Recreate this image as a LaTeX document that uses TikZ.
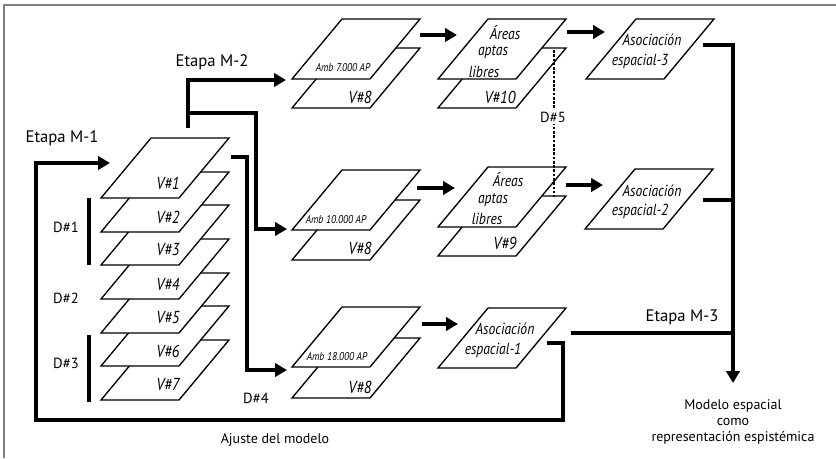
\documentclass[tikz,border=0pt]{standalone}
\usepackage{fontspec}
\setmainfont{PT Sans}
\newfontfamily\planofont[FakeStretch=0.85]{PT Sans}
\usepackage{tikz}
\usetikzlibrary{arrows.meta, calc}

\tikzset{
  plano/.style={draw, line width=1pt, fill=white},
  flujo/.style={line width=3pt},
  flecha/.style={flujo, -{Triangle[length=9pt,width=10pt]}},
  etapa/.style={font=\fontsize{12.5}{14}\selectfont},
  rotulo/.style={font=\fontsize{10.5}{12}\selectfont, align=center},
  distancia/.style={font=\fontsize{11}{12}\selectfont},
  capa/.style={font=\planofont\itshape\fontsize{13}{14}\selectfont},
  texto/.style={font=\planofont\itshape\fontsize{12}{13}\selectfont},
  chica/.style={font=\planofont\itshape\fontsize{8.5}{10}\selectfont},
}
% una capa: esquina inferior izquierda en (#1,#2)
\newcommand{\hoja}[2]{\draw[plano] (#1,#2) -- ++(78,0) -- ++(50,-60) -- ++(-78,0) -- cycle;}

\begin{document}
\begin{tikzpicture}[x=0.75pt, y=-0.75pt]
    \useasboundingbox (0,0) rectangle (836,458);
    \draw[gray, line width=0.8pt] (4,458) -- (4,5) -- (836,5);

    % pila de capas V#1 ... V#7
    \foreach \yy in {400,366,333,299,265,232,198} {\hoja{101}{\yy}}
    \foreach \k/\yy in {1/198,2/232,3/265,4/299,5/333,6/366,7/400}
        {\node[capa] (v\k) at (168,\yy-15) {V\#\k};}
    \draw[flujo] (89,198) -- (89,265);
    \draw[flujo] (89,335) -- (89,402);
    \node[distancia] (d1) at (66,227) {D\#1};
    \node[distancia] (d2) at (66,298) {D\#2};
    \node[distancia] (d3) at (66,363) {D\#3};

    % capas de ambientes
    \hoja{292}{108} \hoja{292}{79}
    \hoja{292}{260} \hoja{292}{230}
    \hoja{292}{398} \hoja{292}{367}
    \node[chica] (amb7) at (343,68) {Amb 7.000 AP};
    \node[capa] (v8a) at (360,97) {V\#8};
    \node[chica] (amb10) at (336,220) {Amb 10.000 AP};
    \node[capa] (v8b) at (360,248) {V\#8};
    \node[chica] (amb18) at (337,357) {Amb 18.000 AP};
    \node[capa] (v8c) at (360,387) {V\#8};

    % areas aptas libres
    \hoja{438}{108} \hoja{438}{79}
    \hoja{438}{256} \hoja{438}{227}
    \node[texto] (ar3a) at (505,33) {Áreas};
    \node[texto] (ar3b) at (493,52) {aptas};
    \node[texto] (ar3c) at (484,72) {libres};
    \node[capa] (v10) at (500,97) {V\#10};
    \node[texto] (ar2a) at (508,180) {Áreas};
    \node[texto] (ar2b) at (493,200) {aptas};
    \node[texto] (ar2c) at (487,219) {libres};
    \node[capa] (v9) at (505,243) {V\#9};
    \draw[dash pattern=on 2pt off 1.2pt, line width=0.8pt] (554,50) -- (554,197);
    \node[distancia, fill=white, inner sep=1pt] (d5) at (553,117) {D\#5};

    % asociaciones espaciales
    \hoja{586}{79} \hoja{585}{229} \hoja{438}{368}
    \node[texto] (as3a) at (652,40) {Asociación};
    \node[texto] (as3b) at (640,61) {espacial-3};
    \node[texto] (as2a) at (652,191) {Asociación};
    \node[texto] (as2b) at (640,211) {espacial-2};
    \node[texto] (as1a) at (505,329) {Asociación};
    \node[texto] (as1b) at (493,350) {espacial-1};

    % flujos
    \coordinate (sal1) at (188,128);
    \coordinate (sal2) at (231,157);
    \coordinate (amb7in) at (286,80);
    \coordinate (amb10in) at (287,229);
    \coordinate (amb18in) at (287,370);
    \draw[flecha] (sal1) |- (amb7in);
    \draw[flecha] (188,113) -| (256,229) -- (amb10in);
    \draw[flecha] (sal2) -| (247,370) -- (amb18in);
    \node[distancia] (d4) at (256,398) {D\#4};
    \node[etapa] (m2) at (212,62) {Etapa M-2};

    \draw[flecha] (420,35) -- (457,35);
    \draw[flecha] (417,188) -- (455,188);
    \draw[flecha] (567,32) -- (605,32);
    \draw[flecha] (566,185) -- (603,185);
    \draw[flecha] (422,324) -- (458,324);

    % ajuste del modelo
    \coordinate (aj) at (547,343);
    \coordinate (v1in) at (110,163);
    \draw[flecha] (aj) -| (563,420) -| (36,163) -- (v1in);
    \node[etapa] (m1) at (62,138) {Etapa M-1};
    \node[rotulo] (ajuste) at (275,440) {Ajuste del modelo};

    % salida final
    \coordinate (fin) at (733,383);
    \draw[flujo] (703,45) -| (733,200);
    \draw[flujo] (703,200) -- (733,200);
    \draw[flujo] (571,333) -- (733,333);
    \draw[flecha] (733,43.5) -- (fin);
    \node[etapa] (m3) at (682,317) {Etapa M-3};
    \node[rotulo] (modelo) at (733,422) {Modelo espacial\\como\\representación espistémica};
\end{tikzpicture}
\end{document}
